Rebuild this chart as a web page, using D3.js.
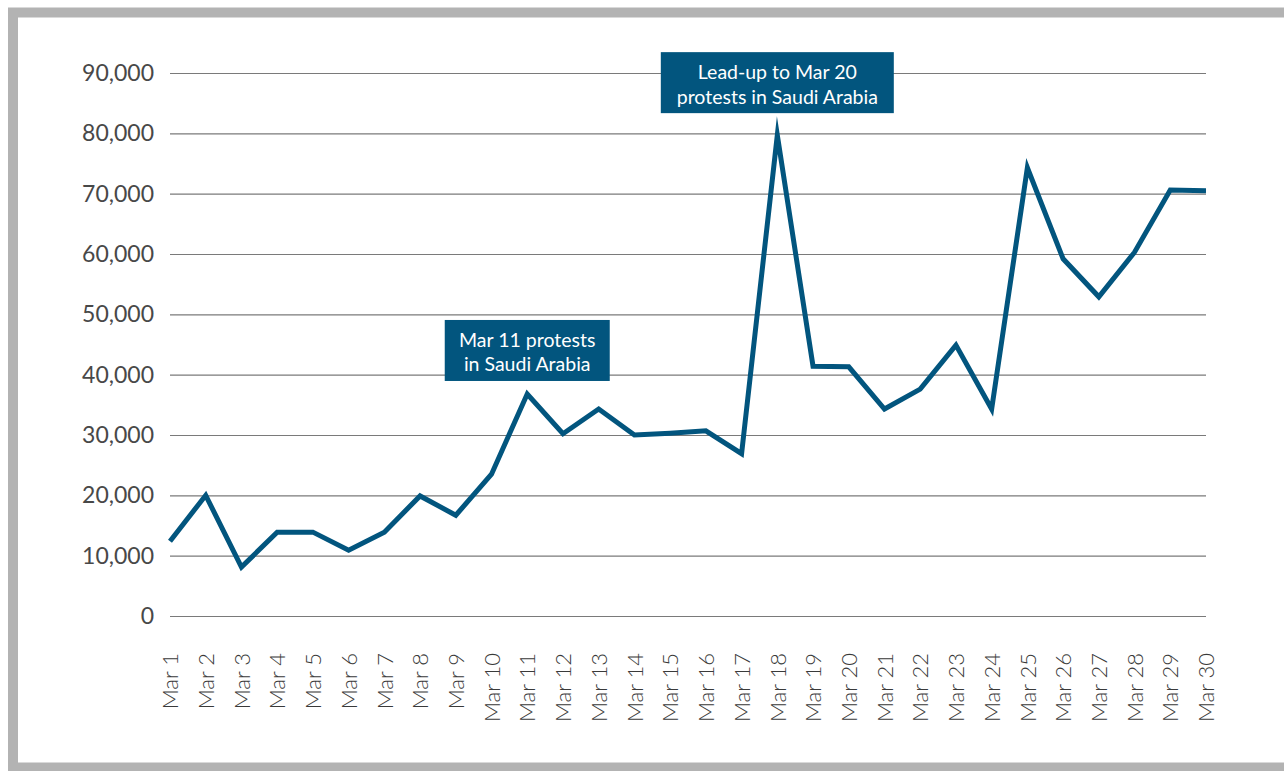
<!DOCTYPE html>
<html>
<head>
<meta charset="utf-8">
<script src="https://cdn.jsdelivr.net/npm/d3@7"></script>
<style>
  html, body { margin: 0; padding: 0; background: #fff; }
  svg { display: block; }
</style>
</head>
<body>
<svg id="chart" width="1284" height="771"></svg>
<script>
const categories = ["Mar 1","Mar 2","Mar 3","Mar 4","Mar 5","Mar 6","Mar 7","Mar 8","Mar 9","Mar 10",
  "Mar 11","Mar 12","Mar 13","Mar 14","Mar 15","Mar 16","Mar 17","Mar 18","Mar 19","Mar 20",
  "Mar 21","Mar 22","Mar 23","Mar 24","Mar 25","Mar 26","Mar 27","Mar 28","Mar 29","Mar 30"];
const values = [12400, 20000, 8100, 13900, 13900, 10900, 13900, 19900, 16700, 23500,
  36800, 30200, 34300, 30000, 30300, 30700, 26900, 79700, 41400, 41300,
  34300, 37600, 44900, 34300, 74300, 59200, 52900, 60300, 70600, 70500];
const yTicks = [0, 10000, 20000, 30000, 40000, 50000, 60000, 70000, 80000, 90000];
const annotationDates = ["Mar 18", "Mar 11"];
const annotationLines = [["Lead-up to Mar 20", "protests in Saudi Arabia"], ["Mar 11 protests", "in Saudi Arabia"]];

(function () {
const svg = d3.select("#chart");
const mLeft = 170, mRight = 1206, mTop = 73, mBottom = 616;

// Frame
svg.append("rect").attr("x", 13).attr("y", 12.5).attr("width", 1290).attr("height", 755)
  .attr("fill", "#fff").attr("stroke", "#b3b3b3").attr("stroke-width", 10);

const x = d3.scalePoint().domain(categories).range([mLeft, mRight]).padding(0);
const y = d3.scaleLinear().domain([0, 90000]).range([mBottom, mTop]);

const fmt = d3.format(",");
const font = "'Lato', 'Open Sans', sans-serif";

// Grid lines + y labels
const yAxis = d3.axisLeft(y).tickValues(yTicks).tickSize(-(mRight - mLeft)).tickFormat(fmt).tickPadding(16);
const gy = svg.append("g").attr("transform", `translate(${mLeft},0)`).call(yAxis);
gy.select(".domain").remove();
gy.selectAll(".tick line").attr("stroke", "#7a7a7a").attr("stroke-width", 1.2);
gy.selectAll(".tick text").attr("fill", "#484848").style("font-family", font)
  .style("font-size", "23px").style("font-weight", 400);

// X axis labels
const xAxis = d3.axisBottom(x).tickSize(0).tickPadding(0);
const gx = svg.append("g").attr("transform", `translate(0,${mBottom})`).call(xAxis);
gx.select(".domain").remove();
gx.selectAll(".tick text")
  .attr("transform", "translate(0,37) rotate(-90)")
  .attr("text-anchor", "end")
  .attr("x", 0).attr("y", 0).attr("dy", "0.35em")
  .attr("fill", "#3a3a3a").style("font-family", font)
  .style("font-size", "22px").style("font-weight", 300);

// Line
const line = d3.line().x((d, i) => x(categories[i])).y(d => y(d));
svg.append("path").datum(values).attr("d", line)
  .attr("fill", "none").attr("stroke", "#02557e").attr("stroke-width", 5)
  .attr("stroke-linejoin", "miter").attr("stroke-miterlimit", 10);

// Annotations
const boxW = [233, 165], boxH = 61;
const boxGap = [22, 13];
annotationDates.forEach((dt, k) => {
  const i = categories.indexOf(dt);
  const cx = x(dt);
  const by = y(values[i]) - boxGap[k] - boxH;
  const g = svg.append("g");
  g.append("rect").attr("x", cx - boxW[k] / 2).attr("y", by).attr("width", boxW[k]).attr("height", boxH)
    .attr("fill", "#02557e");
  annotationLines[k].forEach((t, j) => {
    g.append("text").attr("x", cx).attr("y", by + 27 + j * 24.5)
      .attr("text-anchor", "middle").attr("fill", "#fff")
      .style("font-family", font).style("font-size", "19.5px").style("font-weight", 400).text(t);
  });
});
})();
</script>
</body>
</html>
